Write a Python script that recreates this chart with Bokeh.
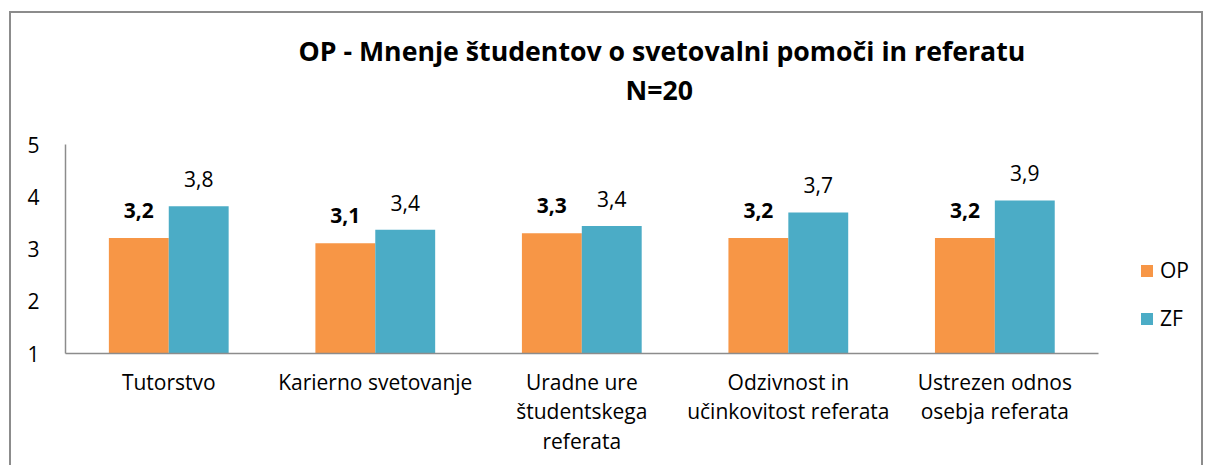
from bokeh.plotting import figure
from bokeh.models import (ColumnDataSource, Range1d, FixedTicker, LabelSet, Legend,
                          LegendItem, Title)
from bokeh.core.properties import value
from bokeh.transform import dodge
from bokeh.embed import file_html
from bokeh.resources import INLINE

categories = ["Tutorstvo", "Karierno svetovanje", "Uradne ure\nštudentskega\nreferata",
              "Odzivnost in\nučinkovitost referata", "Ustrezen odnos\nosebja referata"]
series_names = ["OP", "ZF"]
op_values = [3.21, 3.11, 3.30, 3.21, 3.21]
zf_values = [3.82, 3.37, 3.44, 3.70, 3.93]
y_ticks = [1, 2, 3, 4, 5]
title_line1 = "OP - Mnenje študentov o svetovalni pomoči in referatu"
title_line2 = "N=20"

FONT = "Open Sans"
ORANGE = "#F79646"
TEAL = "#4BACC6"
GRAY = "#8C8C8C"

def fmt(v):
    return f"{v:.1f}".replace(".", ",")

n = len(categories)
x_pos = [i + 0.5 for i in range(n)]

src = ColumnDataSource(dict(
    x=x_pos,
    op=op_values,
    zf=zf_values,
    base=[1] * n,
    op_lbl=[fmt(v) for v in op_values],
    zf_lbl=[fmt(v) for v in zf_values],
))

p = figure(x_range=Range1d(0, n + 0.52), y_range=Range1d(1, 5), width=1194, height=454,
           output_backend="svg", toolbar_location=None,
           min_border_left=54, min_border_top=0, min_border_right=0, min_border_bottom=114)
p.margin = (11, 0, 0, 9)
p.styles = {"border-top": f"2px solid {GRAY}", "border-left": f"2px solid {GRAY}",
            "border-right": f"2px solid {GRAY}"}
p.outline_line_color = None
p.xgrid.grid_line_color = None
p.ygrid.grid_line_color = None

r_op = p.vbar(x=dodge("x", -0.145), top="op", bottom="base", width=0.29,
              source=src, fill_color=ORANGE, line_color=None)
r_zf = p.vbar(x=dodge("x", 0.145), top="zf", bottom="base", width=0.29,
              source=src, fill_color=TEAL, line_color=None)

p.add_layout(LabelSet(x=dodge("x", -0.145), y="op", text="op_lbl", source=src,
                      text_align="center", text_baseline="alphabetic", y_offset=20,
                      text_font=value(FONT), text_font_size="21px",
                      text_font_style="bold", text_color="#000000"))
p.add_layout(LabelSet(x=dodge("x", 0.145), y="zf", text="zf_lbl", source=src,
                      text_align="center", text_baseline="alphabetic", y_offset=19,
                      text_font=value(FONT), text_font_size="21px", text_color="#000000"))

for ax in (p.xaxis[0], p.yaxis[0]):
    ax.axis_line_color = GRAY
    ax.axis_line_width = 1.5
    ax.major_tick_line_color = None
    ax.minor_tick_line_color = None
    ax.major_label_text_font = FONT
    ax.major_label_text_font_size = "21px"
    ax.major_label_text_color = "#000000"

p.yaxis.ticker = FixedTicker(ticks=y_ticks)
p.yaxis.major_label_standoff = 20
p.xaxis.ticker = FixedTicker(ticks=x_pos)
p.xaxis.major_label_overrides = {x: c for x, c in zip(x_pos, categories)}
p.xaxis.bounds = (0, n)
p.xaxis.major_label_standoff = 8
p.xaxis.major_label_text_line_height = 1.055

legend = Legend(items=[LegendItem(label=series_names[0], renderers=[r_op]),
                       LegendItem(label=series_names[1], renderers=[r_zf])],
                location=(1074, 21), border_line_color=None, background_fill_alpha=0,
                label_text_font=FONT, label_text_font_size="21px", label_text_color="#000000",
                glyph_width=15, glyph_height=15, label_height=15, spacing=20, padding=0,
                margin=0, label_standoff=6)
p.add_layout(legend, "center")

TFS = "26.7px"
# spacer (closest to frame), then N=20, then main title on top
p.add_layout(Title(text=" ", standoff=11, text_font=FONT, text_font_size=TFS,
                   text_font_style="bold"), "above")
p.add_layout(Title(text=title_line2, align="left", offset=560, standoff=-30,
                   vertical_align="top", text_color="#000000",
                   text_font=FONT, text_font_size=TFS, text_font_style="bold"), "above")
p.add_layout(Title(text=title_line1, align="left", offset=233, standoff=33,
                   vertical_align="bottom", text_color="#000000",
                   text_font=FONT, text_font_size=TFS, text_font_style="bold"), "above")

open("out.html", "w").write(file_html(p, INLINE))
